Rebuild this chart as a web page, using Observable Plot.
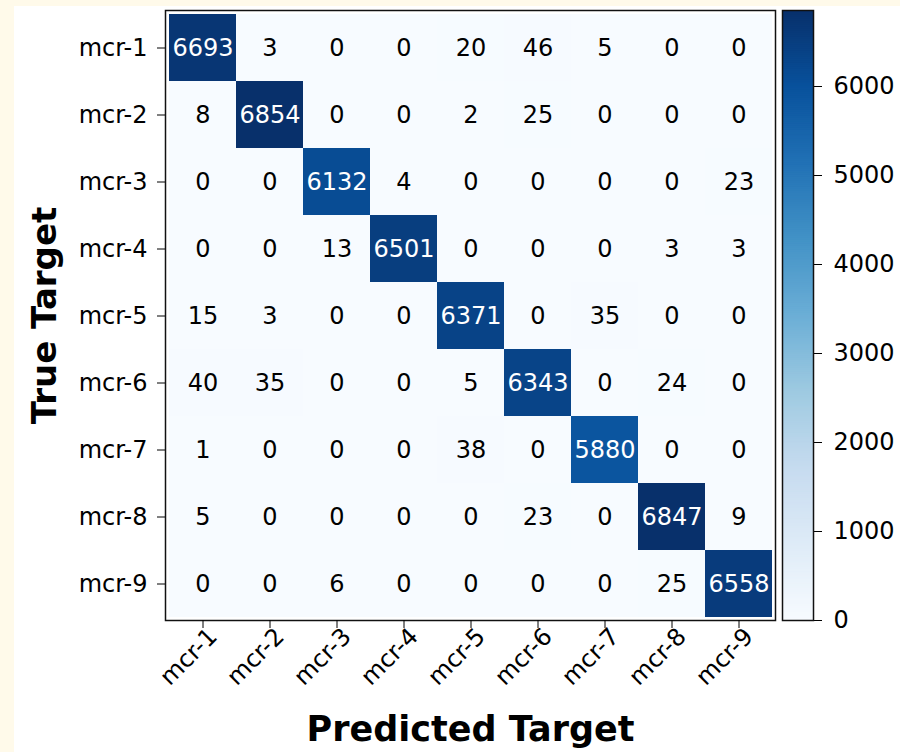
<!DOCTYPE html>
<html>
<head>
<meta charset="utf-8">
<script src="https://cdn.jsdelivr.net/npm/d3@7"></script>
<script src="https://cdn.jsdelivr.net/npm/@observablehq/plot@0.6"></script>
<style>
  html, body { margin: 0; padding: 0; }
  body { width: 900px; height: 752px; background: #fffaea; position: relative; overflow: hidden; }
  #panel { position: absolute; left: 14px; top: 6px; right: 0; bottom: 0; background: #ffffff; }
  #chart, #cbar { position: absolute; left: 0; top: 0; }
  #cbar { pointer-events: none; }
</style>
</head>
<body>
<div id="panel"></div>
<div id="chart"></div>
<div id="cbar"></div>
<script>
// Class labels (rows = true target, columns = predicted target)
const labels = ["mcr-1", "mcr-2", "mcr-3", "mcr-4", "mcr-5", "mcr-6", "mcr-7", "mcr-8", "mcr-9"];

// Confusion-matrix counts, one row per true class
const rowMcr1 = [6693, 3, 0, 0, 20, 46, 5, 0, 0];
const rowMcr2 = [8, 6854, 0, 0, 2, 25, 0, 0, 0];
const rowMcr3 = [0, 0, 6132, 4, 0, 0, 0, 0, 23];
const rowMcr4 = [0, 0, 13, 6501, 0, 0, 0, 3, 3];
const rowMcr5 = [15, 3, 0, 0, 6371, 0, 35, 0, 0];
const rowMcr6 = [40, 35, 0, 0, 5, 6343, 0, 24, 0];
const rowMcr7 = [1, 0, 0, 0, 38, 0, 5880, 0, 0];
const rowMcr8 = [5, 0, 0, 0, 0, 23, 0, 6847, 9];
const rowMcr9 = [0, 0, 6, 0, 0, 0, 0, 25, 6558];
const counts = [rowMcr1, rowMcr2, rowMcr3, rowMcr4, rowMcr5, rowMcr6, rowMcr7, rowMcr8, rowMcr9];

// Colorbar tick values
const colorbarTicks = [0, 1000, 2000, 3000, 4000, 5000, 6000];

// Axis titles
const xTitle = "Predicted Target";
const yTitle = "True Target";

// Matplotlib "Blues" colormap anchors
const blues = ["#f7fbff", "#deebf7", "#c6dbef", "#9ecae1", "#6baed6", "#4292c6", "#2171b5", "#08519c", "#08306b"];

const table = [];
counts.forEach((row, i) => row.forEach((v, j) => table.push({truth: labels[i], pred: labels[j], value: v})));
const vmax = d3.max(table, d => d.value);

const colorScale = {
  type: "linear",
  domain: blues.map((_, i) => i * vmax / (blues.length - 1)),
  range: blues,
  interpolate: "rgb"
};

const font = "DejaVu Sans, Liberation Sans, sans-serif";

const chart = Plot.plot({
  width: 900,
  height: 752,
  marginLeft: 165,
  marginRight: 125,
  marginTop: 10,
  marginBottom: 132,
  style: { background: "transparent", fontFamily: font, fontSize: "24px", color: "#000" },
  x: { domain: labels, padding: 0, label: null },
  y: { domain: labels, padding: 0, tickSize: 8, tickPadding: 10, label: null },
  color: colorScale,
  marks: [
    Plot.cell(table, { x: "pred", y: "truth", fill: "value" }),
    Plot.text(table, {
      x: "pred", y: "truth", text: d => String(d.value),
      fill: d => d.value > vmax / 2 ? "#ffffff" : "#000000",
      fontSize: 24
    }),
    Plot.frame({ stroke: "#111", strokeWidth: 1.5 }),
    Plot.axisX({ tickSize: 8, tickFormat: () => "", label: null }),
    Plot.axisX({ tickSize: 0, tickPadding: 10, tickRotate: -45, dx: 10, dy: 2, fontSize: 24, label: null }),
    Plot.text([xTitle], {
      frameAnchor: "bottom", textAnchor: "middle", lineAnchor: "bottom",
      dy: 120, fontSize: 35, fontWeight: "bold", fill: "#000"
    }),
    Plot.text([yTitle], {
      frameAnchor: "left", textAnchor: "middle", lineAnchor: "bottom",
      rotate: -90, dx: -110, fontSize: 34, fontWeight: "bold", fill: "#000"
    })
  ]
});
document.getElementById("chart").append(chart);

const step = vmax / 300;
const stops = d3.range(0, vmax, step);

const cbar = Plot.plot({
  width: 900,
  height: 752,
  marginLeft: 782,
  marginRight: 87,
  marginTop: 10,
  marginBottom: 132,
  style: { background: "transparent", fontFamily: font, fontSize: "24px", color: "#000" },
  y: { domain: [0, vmax], axis: "right", ticks: colorbarTicks, tickFormat: "d", tickSize: 8, tickPadding: 12, label: null },
  color: colorScale,
  marks: [
    Plot.rect(stops, { y1: d => d, y2: d => Math.min(vmax, d + step * 1.5), fill: d => d + step / 2 }),
    Plot.frame({ stroke: "#111", strokeWidth: 1.5 })
  ]
});
document.getElementById("cbar").append(cbar);
</script>
</body>
</html>
